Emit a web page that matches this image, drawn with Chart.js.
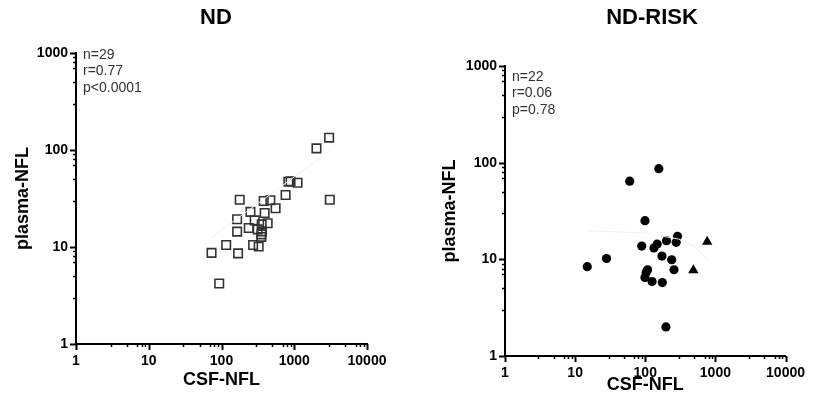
<!DOCTYPE html>
<html>
<head>
    <title>CSF-NFL vs plasma-NFL</title>
    <script src="https://cdn.jsdelivr.net/npm/chart.js"></script>
    <style>
        body {
            margin: 0;
            width: 814px;
            height: 405px;
            position: relative;
            background: #fff;
            font-family: "Liberation Sans", Arial, sans-serif;
            overflow: hidden;
        }

        .panel {
            position: absolute;
            top: 0;
            width: 407px;
            height: 405px;
        }

        .title {
            position: absolute;
            top: 4px;
            font-size: 22px;
            font-weight: bold;
            color: #000;
            transform: translateX(-50%);
            white-space: nowrap;
        }
    </style>
</head>
<body>
    <div class="panel" style="left:0"><canvas id="nd-chart" width="407" height="405"></canvas></div>
    <div class="panel" style="left:407px"><canvas id="risk-chart" width="407" height="405"></canvas></div>
    <div class="title" style="left:216px">ND</div>
    <div class="title" style="left:652px">ND-RISK</div>

    <script>
        // ND panel (open squares)
        const ndCsf = [3015, 2020, 890, 830, 1110, 760, 3080, 178, 380, 469, 554, 250, 392, 164, 286,
                       431, 357, 237, 164, 314, 353, 353, 360, 116, 272, 324, 73, 169, 93];
        const ndPlasma = [134, 104, 47.6, 47, 46, 34.4, 30.7, 30.7, 29.8, 30.3, 25.1, 23, 22.4, 19.3, 18.8,
                          17.6, 17.1, 15.7, 14.4, 15.2, 13.5, 12.7, 14.5, 10.5, 10.5, 10.1, 8.7, 8.6, 4.2];
        const ndFitCsf = [71, 3100];
        const ndFitPlasma = [12.4, 98];
        const ndStats = ['n=29', 'r=0.77', 'p<0.0001'];

        // ND-RISK panel (filled circles + triangles)
        const riskCsf = [156, 60, 99, 288, 276, 201, 148, 133, 89, 173, 238, 28, 14.9, 257, 108, 103, 99, 125, 175, 197];
        const riskPlasma = [86.7, 64.3, 25.1, 17.3, 15, 15.6, 14.4, 13.1, 13.7, 10.8, 9.9, 10.2, 8.4, 7.8, 7.8, 7.3, 6.5, 5.9, 5.75, 2.0];
        const riskTriCsf = [763, 485];
        const riskTriPlasma = [15.2, 7.7];
        const riskFitCsf = [15, 100, 300, 500, 800];
        const riskFitPlasma = [19.8, 18.7, 16.2, 13.6, 9.7];
        const riskStats = ['n=22', 'r=0.06', 'p=0.78'];

        // axis ticks
        const xTicks = [1, 10, 100, 1000, 10000];
        const yTicks = [1, 10, 100, 1000];
        const minorSteps = [3, 5, 7, 8, 9];

        const FONT = '"Liberation Sans", Arial, sans-serif';

        function pairs(xs, ys) {
            return xs.map((x, i) => ({x: x, y: ys[i]}));
        }

        function withMinors(majors) {
            const out = [];
            majors.forEach((m, i) => {
                out.push({value: m, major: true});
                if (i < majors.length - 1) {
                    minorSteps.forEach(s => out.push({value: m * s, major: false}));
                }
            });
            return out;
        }

        const tickMarks = {
            id: 'tickMarks',
            afterDraw(chart, args, opts) {
                const ctx = chart.ctx;
                const xs = chart.scales.x, ys = chart.scales.y;
                const area = chart.chartArea;
                ctx.save();
                ctx.strokeStyle = '#000';
                xs.ticks.forEach(t => {
                    const px = Math.round(xs.getPixelForValue(t.value)) + 0.5;
                    ctx.lineWidth = t.major ? 2 : 1.5;
                    ctx.beginPath();
                    ctx.moveTo(px, area.bottom);
                    ctx.lineTo(px, area.bottom + (t.major ? 6 : 3));
                    ctx.stroke();
                });
                ys.ticks.forEach(t => {
                    const py = Math.round(ys.getPixelForValue(t.value)) + 0.5;
                    ctx.lineWidth = t.major ? 2 : 1.5;
                    ctx.beginPath();
                    ctx.moveTo(area.left, py);
                    ctx.lineTo(area.left - (t.major ? 6 : 3), py);
                    ctx.stroke();
                });
                // stats text
                ctx.fillStyle = '#333';
                ctx.font = '14px ' + FONT;
                ctx.textBaseline = 'middle';
                ctx.textAlign = 'left';
                opts.lines.forEach((line, i) => {
                    ctx.fillText(line, area.left + opts.dx, area.top + opts.dy + i * 16.5);
                });
                ctx.restore();
            }
        };

        function makeChart(id, datasets, lay) {
            const ctx = document.getElementById(id).getContext('2d');
            return new Chart(ctx, {
                type: 'scatter',
                data: {datasets: datasets},
                plugins: [tickMarks],
                options: {
                    responsive: false,
                    animation: false,
                    layout: {
                        autoPadding: false,
                        padding: {left: 0, right: lay.right, top: lay.top, bottom: 0}
                    },
                    plugins: {
                        legend: {display: false},
                        tooltip: {enabled: false},
                        tickMarks: {lines: lay.stats, dx: 7, dy: lay.statsDy}
                    },
                    scales: {
                        x: {
                            type: 'logarithmic',
                            min: 1,
                            max: 10000,
                            afterBuildTicks: s => { s.ticks = withMinors(xTicks); },
                            afterFit: s => { s.height = lay.xHeight; },
                            grid: {display: false, drawTicks: false},
                            border: {display: true, color: '#000', width: 2},
                            ticks: {
                                autoSkip: false,
                                maxRotation: 0,
                                padding: 9,
                                color: '#000',
                                font: {family: FONT, size: 14, weight: 'bold'},
                                callback: v => xTicks.includes(v) ? String(v) : ''
                            },
                            title: {
                                display: true,
                                text: 'CSF-NFL',
                                color: '#000',
                                font: {family: FONT, size: 18, weight: 'bold', lineHeight: 1.2},
                                padding: {top: 0, bottom: lay.xTitlePad}
                            }
                        },
                        y: {
                            type: 'logarithmic',
                            min: 1,
                            max: 1000,
                            afterBuildTicks: s => { s.ticks = withMinors(yTicks); },
                            afterFit: s => { s.width = lay.yWidth; },
                            grid: {display: false, drawTicks: false},
                            border: {display: true, color: '#000', width: 2},
                            ticks: {
                                autoSkip: false,
                                padding: 8,
                                color: '#000',
                                font: {family: FONT, size: 14, weight: 'bold'},
                                callback: v => yTicks.includes(v) ? String(v) : ''
                            },
                            title: {
                                display: true,
                                text: 'plasma-NFL',
                                color: '#000',
                                font: {family: FONT, size: 18, weight: 'bold', lineHeight: 1.2},
                                padding: {top: lay.yTitlePad, bottom: 0}
                            }
                        }
                    }
                }
            });
        }

        makeChart('nd-chart', [
            {
                type: 'line',
                data: pairs(ndFitCsf, ndFitPlasma),
                borderColor: '#f0f0f0',
                borderWidth: 1,
                pointRadius: 0,
                fill: false
            },
            {
                data: pairs(ndCsf, ndPlasma),
                pointStyle: 'rect',
                pointRadius: 6,
                pointBackgroundColor: 'rgba(255,255,255,0)',
                pointBorderColor: '#333',
                pointBorderWidth: 1.6,
                clip: false
            }
        ], {right: 40, top: 53, xHeight: 61, yWidth: 76, xTitlePad: 14, yTitlePad: 12,
            stats: ndStats, statsDy: 2});

        makeChart('risk-chart', [
            {
                type: 'line',
                data: pairs(riskFitCsf, riskFitPlasma),
                borderColor: '#f0f0f0',
                borderWidth: 1,
                pointRadius: 0,
                fill: false
            },
            {
                data: pairs(riskCsf, riskPlasma),
                pointStyle: 'circle',
                pointRadius: 4.6,
                pointBackgroundColor: '#000',
                pointBorderColor: '#000',
                pointBorderWidth: 0,
                clip: false
            },
            {
                data: pairs(riskTriCsf, riskTriPlasma),
                pointStyle: 'triangle',
                pointRadius: 6,
                pointBackgroundColor: '#000',
                pointBorderColor: '#000',
                pointBorderWidth: 0,
                clip: false
            }
        ], {right: 19, top: 66, xHeight: 49, yWidth: 98, xTitlePad: 9, yTitlePad: 32,
            stats: riskStats, statsDy: 11});
    </script>
</body>
</html>
